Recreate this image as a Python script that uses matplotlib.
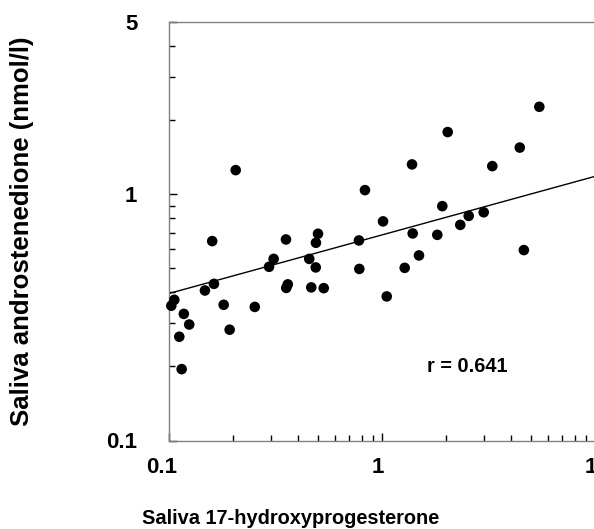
import matplotlib
matplotlib.use("Agg")
import matplotlib.pyplot as plt
import matplotlib.transforms as mtrans
import numpy as np
from matplotlib.ticker import LogLocator, NullFormatter, FixedLocator, FixedFormatter

plt.rcParams['font.family'] = ['Liberation Sans', 'DejaVu Sans']

# Data (x: saliva 17-OHP, y: saliva androstenedione)
x_17ohp = [0.205, 0.159, 0.353, 0.309, 0.294, 0.454, 0.162, 0.147, 0.360, 0.354,
           0.464, 0.1056, 0.1022, 0.180, 0.252, 0.117, 0.124, 0.1114, 0.192, 0.1143,
           1.379, 0.829, 1.913, 1.008, 0.499, 0.488, 0.777, 1.389, 1.812, 0.487,
           1.487, 0.780, 1.274, 0.531, 1.049,
           5.46, 2.028, 4.42, 3.284, 2.993, 2.545, 2.323, 4.62]
y_andro = [1.255, 0.646, 0.656, 0.547, 0.508, 0.547, 0.433, 0.407, 0.431, 0.417,
           0.419, 0.373, 0.353, 0.356, 0.349, 0.327, 0.296, 0.264, 0.282, 0.195,
           1.324, 1.041, 0.896, 0.777, 0.692, 0.636, 0.650, 0.694, 0.685, 0.505,
           0.565, 0.498, 0.503, 0.416, 0.385,
           2.27, 1.792, 1.550, 1.303, 0.846, 0.818, 0.752, 0.594]

# Regression line (log-log)
fit_x_range = [0.1, 10.0]
fit_log_slope = 0.238
fit_y_at_x01 = 0.396

x_ticks = [0.1, 1, 10]
x_tick_labels = ['0.1', '1', '10']
y_ticks = [0.1, 1, 5]
y_tick_labels = ['0.1', '1', '5']

r_text = 'r = 0.641'
x_label = 'Saliva 17-hydroxyprogesterone'
y_label = 'Saliva androstenedione (nmol/l)'

W, H = 594, 529
fig = plt.figure(figsize=(W / 100, H / 100), dpi=100)
left, right, top, bottom = 169.3, 595.3, 22.4, 440.5
ax = fig.add_axes([left / W, 1 - bottom / H, (right - left) / W, (bottom - top) / H])

ax.set_xscale('log')
ax.set_yscale('log')
ax.set_xlim(0.1, 10)
ax.set_ylim(0.1, 5)

ax.scatter(x_17ohp, y_andro, s=58, color='black', edgecolors='none', zorder=3, clip_on=False)

fx = np.array(fit_x_range)
fy = fit_y_at_x01 * (fx / 0.1) ** fit_log_slope
ax.plot(fx, fy, color='black', lw=1.0, zorder=2)

for s in ax.spines.values():
    s.set_color('#808080')
    s.set_linewidth(1.0)

ax.xaxis.set_major_locator(FixedLocator(x_ticks))
ax.xaxis.set_major_formatter(FixedFormatter(x_tick_labels))
ax.yaxis.set_major_locator(FixedLocator(y_ticks))
ax.yaxis.set_major_formatter(FixedFormatter(y_tick_labels))
ax.xaxis.set_minor_locator(LogLocator(base=10, subs=np.arange(2, 10), numticks=20))
ax.yaxis.set_minor_locator(LogLocator(base=10, subs=np.arange(2, 10), numticks=20))
ax.xaxis.set_minor_formatter(NullFormatter())
ax.yaxis.set_minor_formatter(NullFormatter())

ax.tick_params(axis='both', which='major', direction='in', length=6, width=1, color='black',
               labelsize=16)
ax.tick_params(axis='both', which='minor', direction='in', length=4.2, width=1, color='black')
ax.tick_params(axis='x', which='major', pad=12)
ax.tick_params(axis='y', which='major', pad=23)
for lab in ax.get_xticklabels() + ax.get_yticklabels():
    lab.set_fontweight('bold')

shifts = [-8, -4, 2]
for lab, dx in zip(ax.get_xticklabels(), shifts):
    lab.set_transform(lab.get_transform() + mtrans.ScaledTranslation(dx / 100, 0, fig.dpi_scale_trans))

fig.text(467 / W, 1 - 367 / H, r_text, ha='center', va='center',
         fontsize=14.4, fontweight='bold')
fig.text(291 / W, 1 - 518 / H, x_label, ha='center', va='center', fontsize=14.4, fontweight='bold')
fig.text(22 / W, 1 - 231 / H, y_label, ha='center', va='center', rotation=90,
         fontsize=18.5, fontweight='bold')

fig.savefig('out.png', dpi=100)
